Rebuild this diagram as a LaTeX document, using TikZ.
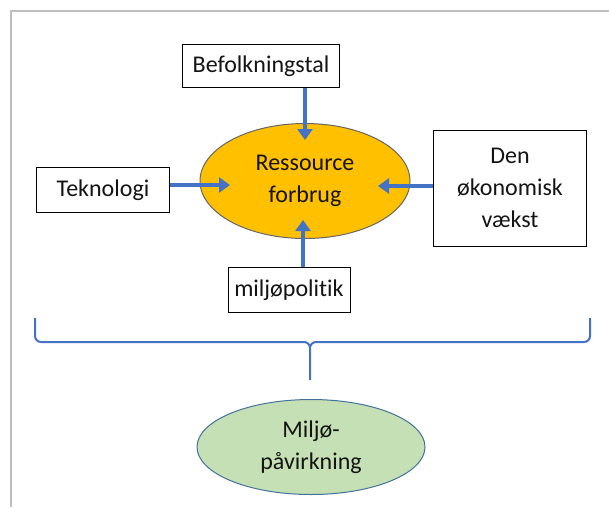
\documentclass[tikz,border=0pt]{standalone}
\usepackage{fontspec}
\setmainfont[Ligatures=NoCommon]{Carlito}
\usetikzlibrary{shapes.geometric,arrows.meta}
\definecolor{arrowblue}{RGB}{68,114,196}
\definecolor{orangefill}{RGB}{255,192,0}
\definecolor{greenfill}{RGB}{197,224,180}
\definecolor{greenedge}{RGB}{65,113,156}
\definecolor{frameg}{RGB}{190,190,190}
\definecolor{ink}{RGB}{20,20,20}
\tikzset{
  txt/.style={font=\fontsize{24}{32}\selectfont, align=center, text=ink},
  box/.style={txt, draw=black, line width=0.8pt, fill=white, inner sep=0pt},
  flow/.style={draw=arrowblue, line width=4pt, -{Triangle[length=11pt,width=15pt]}},
}
\begin{document}
\begin{tikzpicture}[x=1pt,y=-1pt]
  \useasboundingbox (0,0) rectangle (609,507);
  % outer frame
  \draw[frameg, line width=1.5pt] (11,507) -- (11,11) -- (609,11);

  % central ellipse
  \node[txt, ellipse, draw=black!60, line width=1pt, fill=orangefill,
        minimum width=210pt, minimum height=115pt] (res) at (305,181) {Ressource\\forbrug};

  % factor boxes
  \node[box, minimum width=157pt, minimum height=43pt] (bef) at (261,66) {Befolkningstal};
  \node[box, minimum width=133pt, minimum height=45pt] (tek) at (103,190) {Teknologi};
  \node[box, minimum width=153pt, minimum height=116pt] (oko) at (510,188) {Den\\økonomisk\\vækst};
  \node[box, minimum width=122pt, minimum height=45pt] (mil) at (289,290) {miljøpolitik};

  % arrows into the ellipse
  \coordinate (befend) at (305,140);
  \coordinate (tekend) at (230,185);
  \coordinate (okoend) at (378,186);
  \coordinate (milend) at (303,220);
  \draw[flow] (bef.south -| befend) -- (befend);
  \draw[flow] (tek.east |- tekend) -- (tekend);
  \draw[flow] (oko.west |- okoend) -- (okoend);
  \draw[flow] (mil.north -| milend) -- (milend);

  % bracket
  \coordinate (bl) at (35,318);
  \coordinate (br) at (590,318);
  \coordinate (btip) at (310,380);
  \draw[arrowblue, line width=2pt, line join=round]
    (bl) -- (35,336) to[out=-90,in=180] (41,342) -- (304,342)
    to[out=0,in=90] (310,348) -- (btip);
  \draw[arrowblue, line width=2pt, line join=round]
    (br) -- (590,336) to[out=-90,in=0] (584,342) -- (316,342)
    to[out=180,in=90] (310,348);

  % outcome ellipse
  \node[txt, ellipse, draw=greenedge, line width=1pt, fill=greenfill,
        minimum width=228pt, minimum height=95pt] (env) at (311,447) {Miljø-\\påvirkning};
\end{tikzpicture}
\end{document}
